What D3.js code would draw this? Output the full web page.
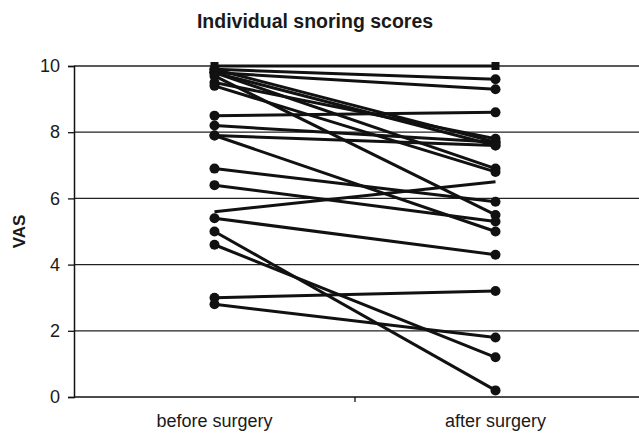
<!DOCTYPE html>
<html>
<head>
<meta charset="utf-8">
<script src="https://cdn.jsdelivr.net/npm/d3@7"></script>
<style>
  body { margin: 0; background: #fff; }
  text { font-family: "Liberation Sans", Arial, sans-serif; fill: #1a1a1a; }
  .title { font-weight: bold; font-size: 19.5px; }
  .label { font-weight: bold; font-size: 17px; }
  .axis text { font-size: 18px; }
</style>
</head>
<body>
<div id="chart"></div>
<script>
// paired scores, one patient per index
const categories = ["before surgery", "after surgery"];
const before = [10.0, 9.9, 9.8, 9.9, 9.8, 9.8, 9.7, 9.5, 9.4, 8.5, 8.2, 7.9, 7.9, 6.9, 6.4, 5.6, 5.4, 5.0, 4.6, 3.0, 2.8];
const after  = [10.0, 9.6, 9.3, 7.7, 7.6, 6.9, 5.5, 7.8, 6.8, 8.6, 7.7, 7.6, 5.0, 5.9, 5.3, 6.5, 4.3, 0.2, 1.2, 3.2, 1.8];
const markers = ["square", "circle", "circle", "circle", "circle", "circle", "circle", "circle", "circle", "circle",
  "circle", "circle", "circle", "circle", "circle", "none", "circle", "circle", "circle", "circle", "circle"];
const yTicks = [0, 2, 4, 6, 8, 10];

const width = 639, height = 437;
const mLeft = 74, mRight = 636, mTop = 66, mBottom = 397;

const svg = d3.select("#chart").append("svg")
  .attr("width", width)
  .attr("height", height);

const xScale = d3.scaleBand()
  .domain(categories)
  .range([mLeft, mRight])
  .padding(0);

const yScale = d3.scaleLinear()
  .domain([0, 10])
  .range([mBottom, mTop]);

// grid
svg.append("g")
  .selectAll("line")
  .data(yTicks.filter(d => d > 0))
  .enter()
  .append("line")
  .attr("x1", mLeft)
  .attr("x2", width)
  .attr("y1", d => yScale(d))
  .attr("y2", d => yScale(d))
  .attr("stroke", "#222")
  .attr("stroke-width", 1.3);

// y axis
const yAxis = svg.append("g")
  .attr("class", "axis")
  .attr("transform", `translate(${mLeft},0)`)
  .call(d3.axisLeft(yScale).tickValues(yTicks).tickSize(6).tickPadding(8));
yAxis.select(".domain").attr("stroke", "#111").attr("stroke-width", 1.5);
yAxis.selectAll(".tick line").attr("stroke", "#111").attr("stroke-width", 1.3);

// x axis
const xAxis = svg.append("g")
  .attr("class", "axis")
  .attr("transform", `translate(0,${mBottom})`)
  .call(d3.axisBottom(xScale).tickSize(0).tickPadding(17));
xAxis.select(".domain").attr("stroke", "#111").attr("stroke-width", 1.5)
  .attr("d", `M${mLeft},0H${width}`);
xAxis.selectAll("text").attr("dy", "0.71em");
xAxis.append("line")
  .attr("x1", mRight - xScale.bandwidth())
  .attr("x2", mRight - xScale.bandwidth())
  .attr("y1", 0)
  .attr("y2", 5)
  .attr("stroke", "#111")
  .attr("stroke-width", 1.3);

// lines
const x0 = xScale(categories[0]) + xScale.bandwidth() / 2;
const x1 = xScale(categories[1]) + xScale.bandwidth() / 2;

const pairs = before.map((b, i) => ({ b: b, a: after[i], m: markers[i] }));

const groups = svg.append("g").selectAll("g")
  .data(pairs)
  .enter()
  .append("g");

groups.append("line")
  .attr("x1", x0)
  .attr("x2", x1)
  .attr("y1", d => yScale(d.b))
  .attr("y2", d => yScale(d.a))
  .attr("stroke", "#111")
  .attr("stroke-width", 3);

groups.filter(d => d.m === "circle").each(function(d) {
  const g = d3.select(this);
  g.append("circle").attr("cx", x0).attr("cy", yScale(d.b)).attr("r", 5).attr("fill", "#111");
  g.append("circle").attr("cx", x1).attr("cy", yScale(d.a)).attr("r", 5).attr("fill", "#111");
});

groups.filter(d => d.m === "square").each(function(d) {
  const g = d3.select(this);
  g.append("rect").attr("x", x0 - 4).attr("y", yScale(d.b) - 4).attr("width", 8).attr("height", 8).attr("fill", "#111");
  g.append("rect").attr("x", x1 - 4).attr("y", yScale(d.a) - 4).attr("width", 8).attr("height", 8).attr("fill", "#111");
});

// titles
svg.append("text")
  .attr("class", "title")
  .attr("x", 315)
  .attr("y", 28)
  .attr("text-anchor", "middle")
  .text("Individual snoring scores");

svg.append("text")
  .attr("class", "label")
  .attr("transform", `translate(25,${(mTop + mBottom) / 2}) rotate(-90)`)
  .attr("text-anchor", "middle")
  .text("VAS");
</script>
</body>
</html>
